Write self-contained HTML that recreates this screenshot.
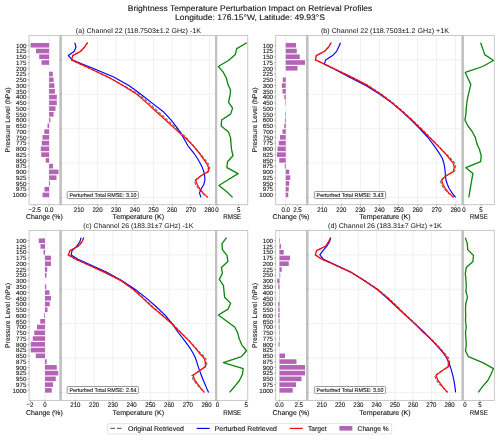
<!DOCTYPE html>
<html><head><meta charset="utf-8"><title>Brightness Temperature Perturbation Impact on Retrieval Profiles</title>
<style>
html,body{margin:0;padding:0;background:#fff;}
body{width:500px;height:440px;overflow:hidden;font-family:"Liberation Sans", sans-serif;}
svg{display:block;font-family:"Liberation Sans", sans-serif;}
</style></head><body>
<svg width="500" height="440" viewBox="0 0 500 440">
<defs><filter id="soft" x="-5%" y="-5%" width="110%" height="110%"><feGaussianBlur stdDeviation="0.3"/></filter></defs>
<rect x="0" y="0" width="500" height="440" fill="#ffffff"/>
<g filter="url(#soft)" text-rendering="geometricPrecision">
<line x1="78.90" y1="35.4" x2="78.90" y2="204.7" stroke="#e9e9e9" stroke-width="0.7"/>
<line x1="97.54" y1="35.4" x2="97.54" y2="204.7" stroke="#e9e9e9" stroke-width="0.7"/>
<line x1="116.18" y1="35.4" x2="116.18" y2="204.7" stroke="#e9e9e9" stroke-width="0.7"/>
<line x1="134.82" y1="35.4" x2="134.82" y2="204.7" stroke="#e9e9e9" stroke-width="0.7"/>
<line x1="153.46" y1="35.4" x2="153.46" y2="204.7" stroke="#e9e9e9" stroke-width="0.7"/>
<line x1="172.10" y1="35.4" x2="172.10" y2="204.7" stroke="#e9e9e9" stroke-width="0.7"/>
<line x1="190.74" y1="35.4" x2="190.74" y2="204.7" stroke="#e9e9e9" stroke-width="0.7"/>
<line x1="209.38" y1="35.4" x2="209.38" y2="204.7" stroke="#e9e9e9" stroke-width="0.7"/>
<line x1="61.3" y1="59.89" x2="215.45" y2="59.89" stroke="#e9e9e9" stroke-width="0.7"/>
<line x1="61.3" y1="94.27" x2="215.45" y2="94.27" stroke="#e9e9e9" stroke-width="0.7"/>
<line x1="61.3" y1="128.65" x2="215.45" y2="128.65" stroke="#e9e9e9" stroke-width="0.7"/>
<line x1="61.3" y1="163.03" x2="215.45" y2="163.03" stroke="#e9e9e9" stroke-width="0.7"/>
<line x1="61.3" y1="197.41" x2="215.45" y2="197.41" stroke="#e9e9e9" stroke-width="0.7"/>
<line x1="49.1" y1="35.4" x2="49.1" y2="204.7" stroke="#e6e6e6" stroke-width="0.8"/>
<rect x="30.60" y="42.95" width="18.50" height="4.6" fill="#b265b4"/>
<rect x="36.00" y="48.71" width="13.10" height="4.6" fill="#b265b4"/>
<rect x="39.20" y="54.46" width="9.90" height="4.6" fill="#b265b4"/>
<rect x="41.50" y="60.22" width="7.60" height="4.6" fill="#b265b4"/>
<rect x="49.10" y="71.73" width="3.70" height="4.6" fill="#b265b4"/>
<rect x="49.10" y="77.49" width="4.50" height="4.6" fill="#b265b4"/>
<rect x="49.10" y="83.25" width="5.30" height="4.6" fill="#b265b4"/>
<rect x="49.10" y="89.01" width="5.80" height="4.6" fill="#b265b4"/>
<rect x="49.10" y="94.76" width="7.70" height="4.6" fill="#b265b4"/>
<rect x="49.10" y="100.52" width="7.70" height="4.6" fill="#b265b4"/>
<rect x="49.10" y="106.28" width="6.40" height="4.6" fill="#b265b4"/>
<rect x="49.10" y="112.03" width="4.50" height="4.6" fill="#b265b4"/>
<rect x="49.10" y="117.79" width="1.30" height="4.6" fill="#b265b4"/>
<rect x="47.50" y="123.55" width="1.60" height="4.6" fill="#b265b4"/>
<rect x="44.30" y="129.30" width="4.80" height="4.6" fill="#b265b4"/>
<rect x="42.50" y="135.06" width="6.60" height="4.6" fill="#b265b4"/>
<rect x="41.75" y="140.82" width="7.35" height="4.6" fill="#b265b4"/>
<rect x="40.75" y="146.58" width="8.35" height="4.6" fill="#b265b4"/>
<rect x="41.25" y="152.33" width="7.85" height="4.6" fill="#b265b4"/>
<rect x="45.75" y="158.09" width="3.35" height="4.6" fill="#b265b4"/>
<rect x="49.10" y="163.85" width="3.90" height="4.6" fill="#b265b4"/>
<rect x="49.10" y="169.60" width="9.40" height="4.6" fill="#b265b4"/>
<rect x="49.10" y="175.36" width="7.40" height="4.6" fill="#b265b4"/>
<rect x="49.10" y="181.12" width="0.90" height="4.6" fill="#b265b4"/>
<rect x="44.50" y="186.87" width="4.60" height="4.6" fill="#b265b4"/>
<rect x="42.50" y="192.63" width="6.60" height="4.6" fill="#b265b4"/>
<polyline points="87.80,42.55 84.65,47.00 80.64,51.29 72.75,55.59 71.51,59.89 80.67,64.19 89.97,68.48 108.26,77.03 123.53,85.52 138.12,93.62 147.95,102.21 157.39,110.81 166.76,119.41 176.17,128.00 185.52,136.79 193.53,145.69 200.67,154.19 204.05,158.28 207.55,162.43 209.73,166.68 209.44,171.02 200.66,175.92 194.31,180.87 195.99,185.12 198.81,189.26 202.89,193.26 207.60,197.41" fill="none" stroke="#777777" stroke-width="1.2" stroke-linejoin="round" stroke-linecap="butt" stroke-dasharray="3.2 1.5"/>
<polyline points="74.70,42.70 76.00,47.00 74.34,51.29 68.33,55.59 72.12,59.89 82.77,64.19 93.56,68.48 113.70,77.08 129.28,85.67 140.84,94.27 151.82,102.86 163.05,111.46 171.21,120.06 177.75,128.65 183.17,137.25 187.91,145.84 194.86,154.44 197.64,158.73 200.02,163.03 202.23,167.33 203.76,171.62 204.72,175.92 204.92,180.22 203.76,184.52 201.17,188.81 199.47,193.11 201.00,197.41" fill="none" stroke="#0505ff" stroke-width="1.15" stroke-linejoin="round" stroke-linecap="butt"/>
<polyline points="87.50,42.70 84.65,47.00 80.64,51.29 72.75,55.59 71.51,59.89 80.67,64.19 89.97,68.48 108.16,77.08 123.23,85.67 136.82,94.27 146.65,102.86 156.09,111.46 165.46,120.06 174.87,128.65 184.61,137.25 193.23,145.84 200.17,154.44 203.15,158.73 206.35,163.03 208.43,167.33 208.24,171.62 200.66,175.92 195.61,180.22 197.19,184.52 199.71,188.81 203.19,193.11 207.60,197.41" fill="none" stroke="#ff0808" stroke-width="1.25" stroke-linejoin="round" stroke-linecap="butt"/>
<polyline points="246.90,42.70 236.70,48.65 235.30,54.60 228.50,60.55 218.30,66.50 223.40,72.45 226.50,78.40 227.90,84.35 230.60,90.30 229.90,96.25 228.50,102.20 232.60,108.15 230.60,114.10 221.60,120.05 221.20,126.00 228.50,131.95 230.60,137.90 231.00,143.85 231.60,149.80 233.00,155.75 227.50,161.70 226.90,167.65 238.10,173.60 228.50,179.55 218.90,185.50 226.50,191.45 232.60,197.40" fill="none" stroke="#0a850a" stroke-width="1.3" stroke-linejoin="round" stroke-linecap="butt"/>
<rect x="29.10" y="35.4" width="30.90" height="169.29999999999998" fill="none" stroke="#c1c1c1" stroke-width="0.9"/>
<rect x="61.30" y="35.4" width="154.15" height="169.29999999999998" fill="none" stroke="#c1c1c1" stroke-width="0.9"/>
<rect x="216.70" y="35.4" width="31.05" height="169.29999999999998" fill="none" stroke="#c1c1c1" stroke-width="0.9"/>
<rect x="59.55" y="34.95" width="2.20" height="170.20" fill="#c1c1c1"/>
<rect x="215.00" y="34.95" width="2.15" height="170.20" fill="#c1c1c1"/>
<line x1="27.50" y1="45.25" x2="29.10" y2="45.25" stroke="#777" stroke-width="0.5"/>
<text x="26.5" y="47.5" font-size="6.2" text-anchor="end" fill="#0d0d0d" textLength="10.4" lengthAdjust="spacingAndGlyphs" stroke="#0d0d0d" stroke-width="0.08">100</text>
<line x1="27.50" y1="51.01" x2="29.10" y2="51.01" stroke="#777" stroke-width="0.5"/>
<text x="26.5" y="53.26" font-size="6.2" text-anchor="end" fill="#0d0d0d" textLength="10.4" lengthAdjust="spacingAndGlyphs" stroke="#0d0d0d" stroke-width="0.08">125</text>
<line x1="27.50" y1="56.76" x2="29.10" y2="56.76" stroke="#777" stroke-width="0.5"/>
<text x="26.5" y="59.01" font-size="6.2" text-anchor="end" fill="#0d0d0d" textLength="10.4" lengthAdjust="spacingAndGlyphs" stroke="#0d0d0d" stroke-width="0.08">150</text>
<line x1="27.50" y1="62.52" x2="29.10" y2="62.52" stroke="#777" stroke-width="0.5"/>
<text x="26.5" y="64.77" font-size="6.2" text-anchor="end" fill="#0d0d0d" textLength="10.4" lengthAdjust="spacingAndGlyphs" stroke="#0d0d0d" stroke-width="0.08">175</text>
<line x1="27.50" y1="68.28" x2="29.10" y2="68.28" stroke="#777" stroke-width="0.5"/>
<text x="26.5" y="70.53" font-size="6.2" text-anchor="end" fill="#0d0d0d" textLength="10.4" lengthAdjust="spacingAndGlyphs" stroke="#0d0d0d" stroke-width="0.08">200</text>
<line x1="27.50" y1="74.03" x2="29.10" y2="74.03" stroke="#777" stroke-width="0.5"/>
<text x="26.5" y="76.28" font-size="6.2" text-anchor="end" fill="#0d0d0d" textLength="10.4" lengthAdjust="spacingAndGlyphs" stroke="#0d0d0d" stroke-width="0.08">225</text>
<line x1="27.50" y1="79.79" x2="29.10" y2="79.79" stroke="#777" stroke-width="0.5"/>
<text x="26.5" y="82.04" font-size="6.2" text-anchor="end" fill="#0d0d0d" textLength="10.4" lengthAdjust="spacingAndGlyphs" stroke="#0d0d0d" stroke-width="0.08">250</text>
<line x1="27.50" y1="85.55" x2="29.10" y2="85.55" stroke="#777" stroke-width="0.5"/>
<text x="26.5" y="87.8" font-size="6.2" text-anchor="end" fill="#0d0d0d" textLength="10.4" lengthAdjust="spacingAndGlyphs" stroke="#0d0d0d" stroke-width="0.08">300</text>
<line x1="27.50" y1="91.31" x2="29.10" y2="91.31" stroke="#777" stroke-width="0.5"/>
<text x="26.5" y="93.56" font-size="6.2" text-anchor="end" fill="#0d0d0d" textLength="10.4" lengthAdjust="spacingAndGlyphs" stroke="#0d0d0d" stroke-width="0.08">350</text>
<line x1="27.50" y1="97.06" x2="29.10" y2="97.06" stroke="#777" stroke-width="0.5"/>
<text x="26.5" y="99.31" font-size="6.2" text-anchor="end" fill="#0d0d0d" textLength="10.4" lengthAdjust="spacingAndGlyphs" stroke="#0d0d0d" stroke-width="0.08">400</text>
<line x1="27.50" y1="102.82" x2="29.10" y2="102.82" stroke="#777" stroke-width="0.5"/>
<text x="26.5" y="105.07" font-size="6.2" text-anchor="end" fill="#0d0d0d" textLength="10.4" lengthAdjust="spacingAndGlyphs" stroke="#0d0d0d" stroke-width="0.08">450</text>
<line x1="27.50" y1="108.58" x2="29.10" y2="108.58" stroke="#777" stroke-width="0.5"/>
<text x="26.5" y="110.83" font-size="6.2" text-anchor="end" fill="#0d0d0d" textLength="10.4" lengthAdjust="spacingAndGlyphs" stroke="#0d0d0d" stroke-width="0.08">500</text>
<line x1="27.50" y1="114.33" x2="29.10" y2="114.33" stroke="#777" stroke-width="0.5"/>
<text x="26.5" y="116.58" font-size="6.2" text-anchor="end" fill="#0d0d0d" textLength="10.4" lengthAdjust="spacingAndGlyphs" stroke="#0d0d0d" stroke-width="0.08">550</text>
<line x1="27.50" y1="120.09" x2="29.10" y2="120.09" stroke="#777" stroke-width="0.5"/>
<text x="26.5" y="122.34" font-size="6.2" text-anchor="end" fill="#0d0d0d" textLength="10.4" lengthAdjust="spacingAndGlyphs" stroke="#0d0d0d" stroke-width="0.08">600</text>
<line x1="27.50" y1="125.85" x2="29.10" y2="125.85" stroke="#777" stroke-width="0.5"/>
<text x="26.5" y="128.1" font-size="6.2" text-anchor="end" fill="#0d0d0d" textLength="10.4" lengthAdjust="spacingAndGlyphs" stroke="#0d0d0d" stroke-width="0.08">650</text>
<line x1="27.50" y1="131.60" x2="29.10" y2="131.60" stroke="#777" stroke-width="0.5"/>
<text x="26.5" y="133.85" font-size="6.2" text-anchor="end" fill="#0d0d0d" textLength="10.4" lengthAdjust="spacingAndGlyphs" stroke="#0d0d0d" stroke-width="0.08">700</text>
<line x1="27.50" y1="137.36" x2="29.10" y2="137.36" stroke="#777" stroke-width="0.5"/>
<text x="26.5" y="139.61" font-size="6.2" text-anchor="end" fill="#0d0d0d" textLength="10.4" lengthAdjust="spacingAndGlyphs" stroke="#0d0d0d" stroke-width="0.08">750</text>
<line x1="27.50" y1="143.12" x2="29.10" y2="143.12" stroke="#777" stroke-width="0.5"/>
<text x="26.5" y="145.37" font-size="6.2" text-anchor="end" fill="#0d0d0d" textLength="10.4" lengthAdjust="spacingAndGlyphs" stroke="#0d0d0d" stroke-width="0.08">775</text>
<line x1="27.50" y1="148.88" x2="29.10" y2="148.88" stroke="#777" stroke-width="0.5"/>
<text x="26.5" y="151.13" font-size="6.2" text-anchor="end" fill="#0d0d0d" textLength="10.4" lengthAdjust="spacingAndGlyphs" stroke="#0d0d0d" stroke-width="0.08">800</text>
<line x1="27.50" y1="154.63" x2="29.10" y2="154.63" stroke="#777" stroke-width="0.5"/>
<text x="26.5" y="156.88" font-size="6.2" text-anchor="end" fill="#0d0d0d" textLength="10.4" lengthAdjust="spacingAndGlyphs" stroke="#0d0d0d" stroke-width="0.08">825</text>
<line x1="27.50" y1="160.39" x2="29.10" y2="160.39" stroke="#777" stroke-width="0.5"/>
<text x="26.5" y="162.64" font-size="6.2" text-anchor="end" fill="#0d0d0d" textLength="10.4" lengthAdjust="spacingAndGlyphs" stroke="#0d0d0d" stroke-width="0.08">850</text>
<line x1="27.50" y1="166.15" x2="29.10" y2="166.15" stroke="#777" stroke-width="0.5"/>
<text x="26.5" y="168.4" font-size="6.2" text-anchor="end" fill="#0d0d0d" textLength="10.4" lengthAdjust="spacingAndGlyphs" stroke="#0d0d0d" stroke-width="0.08">875</text>
<line x1="27.50" y1="171.90" x2="29.10" y2="171.90" stroke="#777" stroke-width="0.5"/>
<text x="26.5" y="174.15" font-size="6.2" text-anchor="end" fill="#0d0d0d" textLength="10.4" lengthAdjust="spacingAndGlyphs" stroke="#0d0d0d" stroke-width="0.08">900</text>
<line x1="27.50" y1="177.66" x2="29.10" y2="177.66" stroke="#777" stroke-width="0.5"/>
<text x="26.5" y="179.91" font-size="6.2" text-anchor="end" fill="#0d0d0d" textLength="10.4" lengthAdjust="spacingAndGlyphs" stroke="#0d0d0d" stroke-width="0.08">925</text>
<line x1="27.50" y1="183.42" x2="29.10" y2="183.42" stroke="#777" stroke-width="0.5"/>
<text x="26.5" y="185.67" font-size="6.2" text-anchor="end" fill="#0d0d0d" textLength="10.4" lengthAdjust="spacingAndGlyphs" stroke="#0d0d0d" stroke-width="0.08">950</text>
<line x1="27.50" y1="189.17" x2="29.10" y2="189.17" stroke="#777" stroke-width="0.5"/>
<text x="26.5" y="191.42" font-size="6.2" text-anchor="end" fill="#0d0d0d" textLength="10.4" lengthAdjust="spacingAndGlyphs" stroke="#0d0d0d" stroke-width="0.08">975</text>
<line x1="27.50" y1="194.93" x2="29.10" y2="194.93" stroke="#777" stroke-width="0.5"/>
<text x="26.5" y="197.18" font-size="6.2" text-anchor="end" fill="#0d0d0d" textLength="13.9" lengthAdjust="spacingAndGlyphs" stroke="#0d0d0d" stroke-width="0.08">1000</text>
<line x1="60.10" y1="59.89" x2="61.30" y2="59.89" stroke="#777" stroke-width="0.5"/>
<line x1="60.10" y1="94.27" x2="61.30" y2="94.27" stroke="#777" stroke-width="0.5"/>
<line x1="60.10" y1="128.65" x2="61.30" y2="128.65" stroke="#777" stroke-width="0.5"/>
<line x1="60.10" y1="163.03" x2="61.30" y2="163.03" stroke="#777" stroke-width="0.5"/>
<line x1="60.10" y1="197.41" x2="61.30" y2="197.41" stroke="#777" stroke-width="0.5"/>
<line x1="35.1" y1="204.7" x2="35.1" y2="206.30" stroke="#777" stroke-width="0.5"/>
<text x="34.5" y="212.3" font-size="6.7" text-anchor="middle" fill="#0d0d0d" textLength="12.6" lengthAdjust="spacingAndGlyphs" stroke="#0d0d0d" stroke-width="0.09">−2.5</text>
<line x1="49.1" y1="204.7" x2="49.1" y2="206.30" stroke="#777" stroke-width="0.5"/>
<text x="49.1" y="212.3" font-size="6.7" text-anchor="middle" fill="#0d0d0d" textLength="8.6" lengthAdjust="spacingAndGlyphs" stroke="#0d0d0d" stroke-width="0.09">0.0</text>
<line x1="78.90" y1="204.7" x2="78.90" y2="206.30" stroke="#777" stroke-width="0.5"/>
<text x="78.9" y="212.3" font-size="6.7" text-anchor="middle" fill="#0d0d0d" textLength="10.2" lengthAdjust="spacingAndGlyphs" stroke="#0d0d0d" stroke-width="0.09">210</text>
<line x1="97.54" y1="204.7" x2="97.54" y2="206.30" stroke="#777" stroke-width="0.5"/>
<text x="97.54" y="212.3" font-size="6.7" text-anchor="middle" fill="#0d0d0d" textLength="10.2" lengthAdjust="spacingAndGlyphs" stroke="#0d0d0d" stroke-width="0.09">220</text>
<line x1="116.18" y1="204.7" x2="116.18" y2="206.30" stroke="#777" stroke-width="0.5"/>
<text x="116.18" y="212.3" font-size="6.7" text-anchor="middle" fill="#0d0d0d" textLength="10.2" lengthAdjust="spacingAndGlyphs" stroke="#0d0d0d" stroke-width="0.09">230</text>
<line x1="134.82" y1="204.7" x2="134.82" y2="206.30" stroke="#777" stroke-width="0.5"/>
<text x="134.82" y="212.3" font-size="6.7" text-anchor="middle" fill="#0d0d0d" textLength="10.2" lengthAdjust="spacingAndGlyphs" stroke="#0d0d0d" stroke-width="0.09">240</text>
<line x1="153.46" y1="204.7" x2="153.46" y2="206.30" stroke="#777" stroke-width="0.5"/>
<text x="153.46" y="212.3" font-size="6.7" text-anchor="middle" fill="#0d0d0d" textLength="10.2" lengthAdjust="spacingAndGlyphs" stroke="#0d0d0d" stroke-width="0.09">250</text>
<line x1="172.10" y1="204.7" x2="172.10" y2="206.30" stroke="#777" stroke-width="0.5"/>
<text x="172.1" y="212.3" font-size="6.7" text-anchor="middle" fill="#0d0d0d" textLength="10.2" lengthAdjust="spacingAndGlyphs" stroke="#0d0d0d" stroke-width="0.09">260</text>
<line x1="190.74" y1="204.7" x2="190.74" y2="206.30" stroke="#777" stroke-width="0.5"/>
<text x="190.74" y="212.3" font-size="6.7" text-anchor="middle" fill="#0d0d0d" textLength="10.2" lengthAdjust="spacingAndGlyphs" stroke="#0d0d0d" stroke-width="0.09">270</text>
<line x1="209.38" y1="204.7" x2="209.38" y2="206.30" stroke="#777" stroke-width="0.5"/>
<text x="209.38" y="212.3" font-size="6.7" text-anchor="middle" fill="#0d0d0d" textLength="10.2" lengthAdjust="spacingAndGlyphs" stroke="#0d0d0d" stroke-width="0.09">280</text>
<line x1="217.0" y1="204.7" x2="217.0" y2="206.30" stroke="#777" stroke-width="0.5"/>
<text x="217.0" y="212.3" font-size="6.7" text-anchor="middle" fill="#0d0d0d" textLength="3.4" lengthAdjust="spacingAndGlyphs" stroke="#0d0d0d" stroke-width="0.09">0</text>
<line x1="238.6" y1="204.7" x2="238.6" y2="206.30" stroke="#777" stroke-width="0.5"/>
<text x="238.6" y="212.3" font-size="6.7" text-anchor="middle" fill="#0d0d0d" textLength="3.4" lengthAdjust="spacingAndGlyphs" stroke="#0d0d0d" stroke-width="0.09">5</text>
<text x="44.4" y="219.2" font-size="7.0" text-anchor="middle" fill="#0d0d0d" textLength="36.8" lengthAdjust="spacingAndGlyphs" stroke="#0d0d0d" stroke-width="0.09">Change (%)</text>
<text x="138.38" y="219.2" font-size="7.0" text-anchor="middle" fill="#0d0d0d" textLength="51.5" lengthAdjust="spacingAndGlyphs" stroke="#0d0d0d" stroke-width="0.09">Temperature (K)</text>
<text x="232.22" y="219.2" font-size="6.9" text-anchor="middle" fill="#0d0d0d" textLength="18" lengthAdjust="spacingAndGlyphs" stroke="#0d0d0d" stroke-width="0.09">RMSE</text>
<text x="10.0" y="119.9" font-size="6.9" text-anchor="middle" fill="#0d0d0d" textLength="65" lengthAdjust="spacingAndGlyphs" transform="rotate(-90 10.0 119.9)" stroke="#0d0d0d" stroke-width="0.09">Pressure Level (hPa)</text>
<text x="138.38" y="33.45" font-size="6.8" text-anchor="middle" fill="#0d0d0d" textLength="125" lengthAdjust="spacingAndGlyphs">(a) Channel 22 (118.7503±1.2 GHz) -1K</text>
<rect x="67.20" y="191.50" width="71.20" height="7.0" rx="1" fill="#fff" stroke="#6e6e6e" stroke-width="0.7"/>
<text x="69.4" y="197.1" font-size="5.6" text-anchor="start" fill="#111" textLength="67" lengthAdjust="spacingAndGlyphs" stroke="#0d0d0d" stroke-width="0.09">Perturbed Total RMSE: 3.10</text>
<line x1="322.40" y1="35.4" x2="322.40" y2="204.7" stroke="#e9e9e9" stroke-width="0.7"/>
<line x1="341.42" y1="35.4" x2="341.42" y2="204.7" stroke="#e9e9e9" stroke-width="0.7"/>
<line x1="360.44" y1="35.4" x2="360.44" y2="204.7" stroke="#e9e9e9" stroke-width="0.7"/>
<line x1="379.46" y1="35.4" x2="379.46" y2="204.7" stroke="#e9e9e9" stroke-width="0.7"/>
<line x1="398.48" y1="35.4" x2="398.48" y2="204.7" stroke="#e9e9e9" stroke-width="0.7"/>
<line x1="417.50" y1="35.4" x2="417.50" y2="204.7" stroke="#e9e9e9" stroke-width="0.7"/>
<line x1="436.52" y1="35.4" x2="436.52" y2="204.7" stroke="#e9e9e9" stroke-width="0.7"/>
<line x1="455.54" y1="35.4" x2="455.54" y2="204.7" stroke="#e9e9e9" stroke-width="0.7"/>
<line x1="307.9" y1="59.89" x2="462.04999999999995" y2="59.89" stroke="#e9e9e9" stroke-width="0.7"/>
<line x1="307.9" y1="94.27" x2="462.04999999999995" y2="94.27" stroke="#e9e9e9" stroke-width="0.7"/>
<line x1="307.9" y1="128.65" x2="462.04999999999995" y2="128.65" stroke="#e9e9e9" stroke-width="0.7"/>
<line x1="307.9" y1="163.03" x2="462.04999999999995" y2="163.03" stroke="#e9e9e9" stroke-width="0.7"/>
<line x1="307.9" y1="197.41" x2="462.04999999999995" y2="197.41" stroke="#e9e9e9" stroke-width="0.7"/>
<line x1="285.75" y1="35.4" x2="285.75" y2="204.7" stroke="#e6e6e6" stroke-width="0.8"/>
<rect x="285.75" y="42.95" width="10.25" height="4.6" fill="#b265b4"/>
<rect x="285.75" y="48.71" width="11.00" height="4.6" fill="#b265b4"/>
<rect x="285.75" y="54.46" width="14.00" height="4.6" fill="#b265b4"/>
<rect x="285.75" y="60.22" width="19.25" height="4.6" fill="#b265b4"/>
<rect x="285.75" y="65.98" width="11.75" height="4.6" fill="#b265b4"/>
<rect x="282.75" y="77.49" width="3.00" height="4.6" fill="#b265b4"/>
<rect x="281.75" y="83.25" width="4.00" height="4.6" fill="#b265b4"/>
<rect x="282.50" y="89.01" width="3.25" height="4.6" fill="#b265b4"/>
<rect x="284.25" y="94.76" width="1.50" height="4.6" fill="#b265b4"/>
<rect x="285.30" y="100.52" width="0.45" height="4.6" fill="#b265b4"/>
<rect x="285.25" y="112.03" width="0.50" height="4.6" fill="#b265b4"/>
<rect x="285.00" y="117.79" width="0.75" height="4.6" fill="#b265b4"/>
<rect x="284.25" y="123.55" width="1.50" height="4.6" fill="#b265b4"/>
<rect x="282.50" y="129.30" width="3.25" height="4.6" fill="#b265b4"/>
<rect x="280.00" y="135.06" width="5.75" height="4.6" fill="#b265b4"/>
<rect x="278.75" y="140.82" width="7.00" height="4.6" fill="#b265b4"/>
<rect x="277.50" y="146.58" width="8.25" height="4.6" fill="#b265b4"/>
<rect x="277.00" y="152.33" width="8.75" height="4.6" fill="#b265b4"/>
<rect x="279.25" y="158.09" width="6.50" height="4.6" fill="#b265b4"/>
<rect x="284.75" y="163.85" width="1.00" height="4.6" fill="#b265b4"/>
<rect x="285.75" y="169.60" width="3.50" height="4.6" fill="#b265b4"/>
<rect x="285.75" y="175.36" width="4.50" height="4.6" fill="#b265b4"/>
<rect x="285.75" y="181.12" width="3.50" height="4.6" fill="#b265b4"/>
<rect x="285.75" y="186.87" width="3.00" height="4.6" fill="#b265b4"/>
<rect x="285.75" y="192.63" width="2.50" height="4.6" fill="#b265b4"/>
<polyline points="331.30,42.55 328.70,47.00 324.59,51.29 316.30,55.59 315.41,59.89 324.57,64.19 333.67,68.48 351.63,77.03 368.18,85.52 381.42,93.97 392.59,102.56 402.78,111.16 412.26,119.76 421.31,128.35 429.69,137.04 438.20,145.69 446.49,154.19 450.51,158.28 454.41,162.43 455.57,166.68 454.62,171.02 445.80,175.92 440.33,180.87 441.87,185.12 444.59,189.26 448.66,193.26 453.60,197.41" fill="none" stroke="#777777" stroke-width="1.2" stroke-linejoin="round" stroke-linecap="butt" stroke-dasharray="3.2 1.5"/>
<polyline points="340.50,42.70 338.69,47.00 336.60,51.29 332.57,55.59 325.61,59.89 324.40,64.19 333.27,68.48 349.09,77.08 366.18,85.67 379.81,94.27 391.82,102.86 402.12,111.46 411.14,120.06 419.62,128.65 427.71,137.25 434.26,145.84 440.05,154.44 442.54,158.73 443.81,163.03 444.65,167.33 445.14,171.62 445.41,175.92 446.01,180.22 447.41,184.52 449.35,188.81 452.12,193.11 455.60,197.41" fill="none" stroke="#0505ff" stroke-width="1.15" stroke-linejoin="round" stroke-linecap="butt"/>
<polyline points="331.00,42.70 328.70,47.00 324.59,51.29 316.30,55.59 315.41,59.89 324.57,64.19 333.67,68.48 351.53,77.08 367.88,85.67 380.82,94.27 391.99,102.86 402.18,111.46 411.66,120.06 420.71,128.65 429.27,137.25 437.90,145.84 445.99,154.44 449.61,158.73 453.21,163.03 454.27,167.33 453.42,171.62 445.80,175.92 441.63,180.22 443.07,184.52 445.49,188.81 448.96,193.11 453.60,197.41" fill="none" stroke="#ff0808" stroke-width="1.25" stroke-linejoin="round" stroke-linecap="butt"/>
<polyline points="480.60,42.70 482.70,48.65 484.70,54.60 493.50,60.55 482.70,66.50 465.30,72.45 468.00,78.40 470.80,84.35 469.40,90.30 468.00,96.25 466.90,102.20 466.30,108.15 465.90,114.10 464.90,120.05 468.00,126.00 472.40,131.95 475.50,137.90 476.90,143.85 479.60,149.80 481.20,155.75 480.60,161.70 465.90,167.65 472.90,173.60 471.80,179.55 470.80,185.50 469.80,191.45 468.80,197.40" fill="none" stroke="#0a850a" stroke-width="1.3" stroke-linejoin="round" stroke-linecap="butt"/>
<rect x="275.70" y="35.4" width="30.90" height="169.29999999999998" fill="none" stroke="#c1c1c1" stroke-width="0.9"/>
<rect x="307.90" y="35.4" width="154.15" height="169.29999999999998" fill="none" stroke="#c1c1c1" stroke-width="0.9"/>
<rect x="463.30" y="35.4" width="31.05" height="169.29999999999998" fill="none" stroke="#c1c1c1" stroke-width="0.9"/>
<rect x="306.15" y="34.95" width="2.20" height="170.20" fill="#c1c1c1"/>
<rect x="461.60" y="34.95" width="2.15" height="170.20" fill="#c1c1c1"/>
<line x1="274.10" y1="45.25" x2="275.70" y2="45.25" stroke="#777" stroke-width="0.5"/>
<text x="273.1" y="47.5" font-size="6.2" text-anchor="end" fill="#0d0d0d" textLength="10.4" lengthAdjust="spacingAndGlyphs" stroke="#0d0d0d" stroke-width="0.08">100</text>
<line x1="274.10" y1="51.01" x2="275.70" y2="51.01" stroke="#777" stroke-width="0.5"/>
<text x="273.1" y="53.26" font-size="6.2" text-anchor="end" fill="#0d0d0d" textLength="10.4" lengthAdjust="spacingAndGlyphs" stroke="#0d0d0d" stroke-width="0.08">125</text>
<line x1="274.10" y1="56.76" x2="275.70" y2="56.76" stroke="#777" stroke-width="0.5"/>
<text x="273.1" y="59.01" font-size="6.2" text-anchor="end" fill="#0d0d0d" textLength="10.4" lengthAdjust="spacingAndGlyphs" stroke="#0d0d0d" stroke-width="0.08">150</text>
<line x1="274.10" y1="62.52" x2="275.70" y2="62.52" stroke="#777" stroke-width="0.5"/>
<text x="273.1" y="64.77" font-size="6.2" text-anchor="end" fill="#0d0d0d" textLength="10.4" lengthAdjust="spacingAndGlyphs" stroke="#0d0d0d" stroke-width="0.08">175</text>
<line x1="274.10" y1="68.28" x2="275.70" y2="68.28" stroke="#777" stroke-width="0.5"/>
<text x="273.1" y="70.53" font-size="6.2" text-anchor="end" fill="#0d0d0d" textLength="10.4" lengthAdjust="spacingAndGlyphs" stroke="#0d0d0d" stroke-width="0.08">200</text>
<line x1="274.10" y1="74.03" x2="275.70" y2="74.03" stroke="#777" stroke-width="0.5"/>
<text x="273.1" y="76.28" font-size="6.2" text-anchor="end" fill="#0d0d0d" textLength="10.4" lengthAdjust="spacingAndGlyphs" stroke="#0d0d0d" stroke-width="0.08">225</text>
<line x1="274.10" y1="79.79" x2="275.70" y2="79.79" stroke="#777" stroke-width="0.5"/>
<text x="273.1" y="82.04" font-size="6.2" text-anchor="end" fill="#0d0d0d" textLength="10.4" lengthAdjust="spacingAndGlyphs" stroke="#0d0d0d" stroke-width="0.08">250</text>
<line x1="274.10" y1="85.55" x2="275.70" y2="85.55" stroke="#777" stroke-width="0.5"/>
<text x="273.1" y="87.8" font-size="6.2" text-anchor="end" fill="#0d0d0d" textLength="10.4" lengthAdjust="spacingAndGlyphs" stroke="#0d0d0d" stroke-width="0.08">300</text>
<line x1="274.10" y1="91.31" x2="275.70" y2="91.31" stroke="#777" stroke-width="0.5"/>
<text x="273.1" y="93.56" font-size="6.2" text-anchor="end" fill="#0d0d0d" textLength="10.4" lengthAdjust="spacingAndGlyphs" stroke="#0d0d0d" stroke-width="0.08">350</text>
<line x1="274.10" y1="97.06" x2="275.70" y2="97.06" stroke="#777" stroke-width="0.5"/>
<text x="273.1" y="99.31" font-size="6.2" text-anchor="end" fill="#0d0d0d" textLength="10.4" lengthAdjust="spacingAndGlyphs" stroke="#0d0d0d" stroke-width="0.08">400</text>
<line x1="274.10" y1="102.82" x2="275.70" y2="102.82" stroke="#777" stroke-width="0.5"/>
<text x="273.1" y="105.07" font-size="6.2" text-anchor="end" fill="#0d0d0d" textLength="10.4" lengthAdjust="spacingAndGlyphs" stroke="#0d0d0d" stroke-width="0.08">450</text>
<line x1="274.10" y1="108.58" x2="275.70" y2="108.58" stroke="#777" stroke-width="0.5"/>
<text x="273.1" y="110.83" font-size="6.2" text-anchor="end" fill="#0d0d0d" textLength="10.4" lengthAdjust="spacingAndGlyphs" stroke="#0d0d0d" stroke-width="0.08">500</text>
<line x1="274.10" y1="114.33" x2="275.70" y2="114.33" stroke="#777" stroke-width="0.5"/>
<text x="273.1" y="116.58" font-size="6.2" text-anchor="end" fill="#0d0d0d" textLength="10.4" lengthAdjust="spacingAndGlyphs" stroke="#0d0d0d" stroke-width="0.08">550</text>
<line x1="274.10" y1="120.09" x2="275.70" y2="120.09" stroke="#777" stroke-width="0.5"/>
<text x="273.1" y="122.34" font-size="6.2" text-anchor="end" fill="#0d0d0d" textLength="10.4" lengthAdjust="spacingAndGlyphs" stroke="#0d0d0d" stroke-width="0.08">600</text>
<line x1="274.10" y1="125.85" x2="275.70" y2="125.85" stroke="#777" stroke-width="0.5"/>
<text x="273.1" y="128.1" font-size="6.2" text-anchor="end" fill="#0d0d0d" textLength="10.4" lengthAdjust="spacingAndGlyphs" stroke="#0d0d0d" stroke-width="0.08">650</text>
<line x1="274.10" y1="131.60" x2="275.70" y2="131.60" stroke="#777" stroke-width="0.5"/>
<text x="273.1" y="133.85" font-size="6.2" text-anchor="end" fill="#0d0d0d" textLength="10.4" lengthAdjust="spacingAndGlyphs" stroke="#0d0d0d" stroke-width="0.08">700</text>
<line x1="274.10" y1="137.36" x2="275.70" y2="137.36" stroke="#777" stroke-width="0.5"/>
<text x="273.1" y="139.61" font-size="6.2" text-anchor="end" fill="#0d0d0d" textLength="10.4" lengthAdjust="spacingAndGlyphs" stroke="#0d0d0d" stroke-width="0.08">750</text>
<line x1="274.10" y1="143.12" x2="275.70" y2="143.12" stroke="#777" stroke-width="0.5"/>
<text x="273.1" y="145.37" font-size="6.2" text-anchor="end" fill="#0d0d0d" textLength="10.4" lengthAdjust="spacingAndGlyphs" stroke="#0d0d0d" stroke-width="0.08">775</text>
<line x1="274.10" y1="148.88" x2="275.70" y2="148.88" stroke="#777" stroke-width="0.5"/>
<text x="273.1" y="151.13" font-size="6.2" text-anchor="end" fill="#0d0d0d" textLength="10.4" lengthAdjust="spacingAndGlyphs" stroke="#0d0d0d" stroke-width="0.08">800</text>
<line x1="274.10" y1="154.63" x2="275.70" y2="154.63" stroke="#777" stroke-width="0.5"/>
<text x="273.1" y="156.88" font-size="6.2" text-anchor="end" fill="#0d0d0d" textLength="10.4" lengthAdjust="spacingAndGlyphs" stroke="#0d0d0d" stroke-width="0.08">825</text>
<line x1="274.10" y1="160.39" x2="275.70" y2="160.39" stroke="#777" stroke-width="0.5"/>
<text x="273.1" y="162.64" font-size="6.2" text-anchor="end" fill="#0d0d0d" textLength="10.4" lengthAdjust="spacingAndGlyphs" stroke="#0d0d0d" stroke-width="0.08">850</text>
<line x1="274.10" y1="166.15" x2="275.70" y2="166.15" stroke="#777" stroke-width="0.5"/>
<text x="273.1" y="168.4" font-size="6.2" text-anchor="end" fill="#0d0d0d" textLength="10.4" lengthAdjust="spacingAndGlyphs" stroke="#0d0d0d" stroke-width="0.08">875</text>
<line x1="274.10" y1="171.90" x2="275.70" y2="171.90" stroke="#777" stroke-width="0.5"/>
<text x="273.1" y="174.15" font-size="6.2" text-anchor="end" fill="#0d0d0d" textLength="10.4" lengthAdjust="spacingAndGlyphs" stroke="#0d0d0d" stroke-width="0.08">900</text>
<line x1="274.10" y1="177.66" x2="275.70" y2="177.66" stroke="#777" stroke-width="0.5"/>
<text x="273.1" y="179.91" font-size="6.2" text-anchor="end" fill="#0d0d0d" textLength="10.4" lengthAdjust="spacingAndGlyphs" stroke="#0d0d0d" stroke-width="0.08">925</text>
<line x1="274.10" y1="183.42" x2="275.70" y2="183.42" stroke="#777" stroke-width="0.5"/>
<text x="273.1" y="185.67" font-size="6.2" text-anchor="end" fill="#0d0d0d" textLength="10.4" lengthAdjust="spacingAndGlyphs" stroke="#0d0d0d" stroke-width="0.08">950</text>
<line x1="274.10" y1="189.17" x2="275.70" y2="189.17" stroke="#777" stroke-width="0.5"/>
<text x="273.1" y="191.42" font-size="6.2" text-anchor="end" fill="#0d0d0d" textLength="10.4" lengthAdjust="spacingAndGlyphs" stroke="#0d0d0d" stroke-width="0.08">975</text>
<line x1="274.10" y1="194.93" x2="275.70" y2="194.93" stroke="#777" stroke-width="0.5"/>
<text x="273.1" y="197.18" font-size="6.2" text-anchor="end" fill="#0d0d0d" textLength="13.9" lengthAdjust="spacingAndGlyphs" stroke="#0d0d0d" stroke-width="0.08">1000</text>
<line x1="306.70" y1="59.89" x2="307.90" y2="59.89" stroke="#777" stroke-width="0.5"/>
<line x1="306.70" y1="94.27" x2="307.90" y2="94.27" stroke="#777" stroke-width="0.5"/>
<line x1="306.70" y1="128.65" x2="307.90" y2="128.65" stroke="#777" stroke-width="0.5"/>
<line x1="306.70" y1="163.03" x2="307.90" y2="163.03" stroke="#777" stroke-width="0.5"/>
<line x1="306.70" y1="197.41" x2="307.90" y2="197.41" stroke="#777" stroke-width="0.5"/>
<line x1="285.75" y1="204.7" x2="285.75" y2="206.30" stroke="#777" stroke-width="0.5"/>
<text x="285.75" y="212.3" font-size="6.7" text-anchor="middle" fill="#0d0d0d" textLength="8.6" lengthAdjust="spacingAndGlyphs" stroke="#0d0d0d" stroke-width="0.09">0.0</text>
<line x1="297.5" y1="204.7" x2="297.5" y2="206.30" stroke="#777" stroke-width="0.5"/>
<text x="297.5" y="212.3" font-size="6.7" text-anchor="middle" fill="#0d0d0d" textLength="8.6" lengthAdjust="spacingAndGlyphs" stroke="#0d0d0d" stroke-width="0.09">2.5</text>
<line x1="322.40" y1="204.7" x2="322.40" y2="206.30" stroke="#777" stroke-width="0.5"/>
<text x="322.4" y="212.3" font-size="6.7" text-anchor="middle" fill="#0d0d0d" textLength="10.2" lengthAdjust="spacingAndGlyphs" stroke="#0d0d0d" stroke-width="0.09">210</text>
<line x1="341.42" y1="204.7" x2="341.42" y2="206.30" stroke="#777" stroke-width="0.5"/>
<text x="341.42" y="212.3" font-size="6.7" text-anchor="middle" fill="#0d0d0d" textLength="10.2" lengthAdjust="spacingAndGlyphs" stroke="#0d0d0d" stroke-width="0.09">220</text>
<line x1="360.44" y1="204.7" x2="360.44" y2="206.30" stroke="#777" stroke-width="0.5"/>
<text x="360.44" y="212.3" font-size="6.7" text-anchor="middle" fill="#0d0d0d" textLength="10.2" lengthAdjust="spacingAndGlyphs" stroke="#0d0d0d" stroke-width="0.09">230</text>
<line x1="379.46" y1="204.7" x2="379.46" y2="206.30" stroke="#777" stroke-width="0.5"/>
<text x="379.46" y="212.3" font-size="6.7" text-anchor="middle" fill="#0d0d0d" textLength="10.2" lengthAdjust="spacingAndGlyphs" stroke="#0d0d0d" stroke-width="0.09">240</text>
<line x1="398.48" y1="204.7" x2="398.48" y2="206.30" stroke="#777" stroke-width="0.5"/>
<text x="398.48" y="212.3" font-size="6.7" text-anchor="middle" fill="#0d0d0d" textLength="10.2" lengthAdjust="spacingAndGlyphs" stroke="#0d0d0d" stroke-width="0.09">250</text>
<line x1="417.50" y1="204.7" x2="417.50" y2="206.30" stroke="#777" stroke-width="0.5"/>
<text x="417.5" y="212.3" font-size="6.7" text-anchor="middle" fill="#0d0d0d" textLength="10.2" lengthAdjust="spacingAndGlyphs" stroke="#0d0d0d" stroke-width="0.09">260</text>
<line x1="436.52" y1="204.7" x2="436.52" y2="206.30" stroke="#777" stroke-width="0.5"/>
<text x="436.52" y="212.3" font-size="6.7" text-anchor="middle" fill="#0d0d0d" textLength="10.2" lengthAdjust="spacingAndGlyphs" stroke="#0d0d0d" stroke-width="0.09">270</text>
<line x1="455.54" y1="204.7" x2="455.54" y2="206.30" stroke="#777" stroke-width="0.5"/>
<text x="455.54" y="212.3" font-size="6.7" text-anchor="middle" fill="#0d0d0d" textLength="10.2" lengthAdjust="spacingAndGlyphs" stroke="#0d0d0d" stroke-width="0.09">280</text>
<line x1="464.0" y1="204.7" x2="464.0" y2="206.30" stroke="#777" stroke-width="0.5"/>
<text x="464.0" y="212.3" font-size="6.7" text-anchor="middle" fill="#0d0d0d" textLength="3.4" lengthAdjust="spacingAndGlyphs" stroke="#0d0d0d" stroke-width="0.09">0</text>
<line x1="481.0" y1="204.7" x2="481.0" y2="206.30" stroke="#777" stroke-width="0.5"/>
<text x="481.0" y="212.3" font-size="6.7" text-anchor="middle" fill="#0d0d0d" textLength="3.4" lengthAdjust="spacingAndGlyphs" stroke="#0d0d0d" stroke-width="0.09">5</text>
<text x="291.0" y="219.2" font-size="7.0" text-anchor="middle" fill="#0d0d0d" textLength="36.8" lengthAdjust="spacingAndGlyphs" stroke="#0d0d0d" stroke-width="0.09">Change (%)</text>
<text x="384.97" y="219.2" font-size="7.0" text-anchor="middle" fill="#0d0d0d" textLength="51.5" lengthAdjust="spacingAndGlyphs" stroke="#0d0d0d" stroke-width="0.09">Temperature (K)</text>
<text x="478.82" y="219.2" font-size="6.9" text-anchor="middle" fill="#0d0d0d" textLength="18" lengthAdjust="spacingAndGlyphs" stroke="#0d0d0d" stroke-width="0.09">RMSE</text>
<text x="256.6" y="119.9" font-size="6.9" text-anchor="middle" fill="#0d0d0d" textLength="65" lengthAdjust="spacingAndGlyphs" transform="rotate(-90 256.6 119.9)" stroke="#0d0d0d" stroke-width="0.09">Pressure Level (hPa)</text>
<text x="384.97" y="33.45" font-size="6.8" text-anchor="middle" fill="#0d0d0d" textLength="128" lengthAdjust="spacingAndGlyphs">(b) Channel 22 (118.7503±1.2 GHz) +1K</text>
<rect x="314.40" y="191.50" width="71.20" height="7.0" rx="1" fill="#fff" stroke="#6e6e6e" stroke-width="0.7"/>
<text x="316.6" y="197.1" font-size="5.6" text-anchor="start" fill="#111" textLength="67" lengthAdjust="spacingAndGlyphs" stroke="#0d0d0d" stroke-width="0.09">Perturbed Total RMSE: 3.43</text>
<line x1="75.40" y1="230.4" x2="75.40" y2="400.4" stroke="#e9e9e9" stroke-width="0.7"/>
<line x1="94.14" y1="230.4" x2="94.14" y2="400.4" stroke="#e9e9e9" stroke-width="0.7"/>
<line x1="112.88" y1="230.4" x2="112.88" y2="400.4" stroke="#e9e9e9" stroke-width="0.7"/>
<line x1="131.62" y1="230.4" x2="131.62" y2="400.4" stroke="#e9e9e9" stroke-width="0.7"/>
<line x1="150.36" y1="230.4" x2="150.36" y2="400.4" stroke="#e9e9e9" stroke-width="0.7"/>
<line x1="169.10" y1="230.4" x2="169.10" y2="400.4" stroke="#e9e9e9" stroke-width="0.7"/>
<line x1="187.84" y1="230.4" x2="187.84" y2="400.4" stroke="#e9e9e9" stroke-width="0.7"/>
<line x1="206.58" y1="230.4" x2="206.58" y2="400.4" stroke="#e9e9e9" stroke-width="0.7"/>
<line x1="61.3" y1="254.89" x2="215.45" y2="254.89" stroke="#e9e9e9" stroke-width="0.7"/>
<line x1="61.3" y1="289.27" x2="215.45" y2="289.27" stroke="#e9e9e9" stroke-width="0.7"/>
<line x1="61.3" y1="323.65" x2="215.45" y2="323.65" stroke="#e9e9e9" stroke-width="0.7"/>
<line x1="61.3" y1="358.03" x2="215.45" y2="358.03" stroke="#e9e9e9" stroke-width="0.7"/>
<line x1="61.3" y1="392.41" x2="215.45" y2="392.41" stroke="#e9e9e9" stroke-width="0.7"/>
<line x1="45.0" y1="230.4" x2="45.0" y2="400.4" stroke="#e6e6e6" stroke-width="0.8"/>
<rect x="38.75" y="238.40" width="6.25" height="4.6" fill="#b265b4"/>
<rect x="40.50" y="244.16" width="4.50" height="4.6" fill="#b265b4"/>
<rect x="43.50" y="249.91" width="1.50" height="4.6" fill="#b265b4"/>
<rect x="45.00" y="255.67" width="6.00" height="4.6" fill="#b265b4"/>
<rect x="45.00" y="261.43" width="6.00" height="4.6" fill="#b265b4"/>
<rect x="45.00" y="267.19" width="2.25" height="4.6" fill="#b265b4"/>
<rect x="45.00" y="272.94" width="1.50" height="4.6" fill="#b265b4"/>
<rect x="45.00" y="284.46" width="1.25" height="4.6" fill="#b265b4"/>
<rect x="45.00" y="290.21" width="4.50" height="4.6" fill="#b265b4"/>
<rect x="45.00" y="295.97" width="6.00" height="4.6" fill="#b265b4"/>
<rect x="45.00" y="301.73" width="4.75" height="4.6" fill="#b265b4"/>
<rect x="45.00" y="307.48" width="2.50" height="4.6" fill="#b265b4"/>
<rect x="44.25" y="313.24" width="0.75" height="4.6" fill="#b265b4"/>
<rect x="40.25" y="319.00" width="4.75" height="4.6" fill="#b265b4"/>
<rect x="37.00" y="324.75" width="8.00" height="4.6" fill="#b265b4"/>
<rect x="34.25" y="330.51" width="10.75" height="4.6" fill="#b265b4"/>
<rect x="32.75" y="336.27" width="12.25" height="4.6" fill="#b265b4"/>
<rect x="30.75" y="342.03" width="14.25" height="4.6" fill="#b265b4"/>
<rect x="30.75" y="347.78" width="14.25" height="4.6" fill="#b265b4"/>
<rect x="35.75" y="353.54" width="9.25" height="4.6" fill="#b265b4"/>
<rect x="45.00" y="359.30" width="1.75" height="4.6" fill="#b265b4"/>
<rect x="45.00" y="365.05" width="11.75" height="4.6" fill="#b265b4"/>
<rect x="45.00" y="370.81" width="13.25" height="4.6" fill="#b265b4"/>
<rect x="45.00" y="376.57" width="10.75" height="4.6" fill="#b265b4"/>
<rect x="45.00" y="382.32" width="8.00" height="4.6" fill="#b265b4"/>
<rect x="45.00" y="388.08" width="6.75" height="4.6" fill="#b265b4"/>
<polyline points="84.00,237.55 81.90,242.00 78.13,246.30 70.08,250.59 68.31,254.89 75.67,259.19 85.17,263.49 104.23,272.03 121.39,280.53 133.38,289.02 143.00,297.62 152.14,306.21 162.27,314.81 172.13,323.40 180.63,332.07 189.29,340.69 196.93,349.19 200.68,353.28 205.13,357.43 206.66,361.68 206.65,366.02 199.06,370.92 191.76,375.87 193.36,380.12 196.63,384.27 200.39,388.26 204.40,392.41" fill="none" stroke="#777777" stroke-width="1.2" stroke-linejoin="round" stroke-linecap="butt" stroke-dasharray="3.2 1.5"/>
<polyline points="81.10,237.70 79.76,242.00 76.56,246.30 72.06,250.59 71.21,254.89 77.97,259.19 87.47,263.49 106.38,272.08 121.94,280.68 134.94,289.27 146.05,297.87 155.97,306.46 165.12,315.06 172.14,323.65 178.04,332.25 184.79,340.84 190.92,349.44 193.43,353.73 195.42,358.03 196.89,362.33 198.21,366.62 199.69,370.92 201.30,375.22 202.99,379.52 204.76,383.82 206.63,388.11 208.60,392.41" fill="none" stroke="#0505ff" stroke-width="1.15" stroke-linejoin="round" stroke-linecap="butt"/>
<polyline points="83.70,237.70 81.90,242.00 78.13,246.30 70.08,250.59 68.31,254.89 75.67,259.19 85.17,263.49 104.13,272.08 121.09,280.68 132.88,289.27 142.50,297.87 151.64,306.46 161.77,315.06 171.63,323.65 180.28,332.25 188.99,340.84 196.43,349.44 199.78,353.73 203.93,358.03 205.36,362.33 205.45,366.62 199.06,370.92 193.06,375.22 194.56,379.52 197.53,383.82 200.69,388.11 204.40,392.41" fill="none" stroke="#ff0808" stroke-width="1.25" stroke-linejoin="round" stroke-linecap="butt"/>
<polyline points="226.50,237.70 222.00,243.65 222.40,249.60 227.10,255.55 227.90,261.50 221.40,267.45 222.40,273.40 219.30,279.35 223.40,285.30 224.00,291.25 224.60,297.20 230.60,303.15 228.10,309.10 218.30,315.05 226.50,321.00 234.70,326.95 237.70,332.90 239.20,338.85 241.80,344.80 246.50,350.75 241.40,356.70 223.40,362.65 243.20,368.60 242.40,374.55 239.40,380.50 234.70,386.45 229.50,392.40" fill="none" stroke="#0a850a" stroke-width="1.3" stroke-linejoin="round" stroke-linecap="butt"/>
<rect x="29.10" y="230.4" width="30.90" height="169.99999999999997" fill="none" stroke="#c1c1c1" stroke-width="0.9"/>
<rect x="61.30" y="230.4" width="154.15" height="169.99999999999997" fill="none" stroke="#c1c1c1" stroke-width="0.9"/>
<rect x="216.70" y="230.4" width="31.05" height="169.99999999999997" fill="none" stroke="#c1c1c1" stroke-width="0.9"/>
<rect x="59.55" y="229.95" width="2.20" height="170.90" fill="#c1c1c1"/>
<rect x="215.00" y="229.95" width="2.15" height="170.90" fill="#c1c1c1"/>
<line x1="27.50" y1="240.70" x2="29.10" y2="240.70" stroke="#777" stroke-width="0.5"/>
<text x="26.5" y="242.95" font-size="6.2" text-anchor="end" fill="#0d0d0d" textLength="10.4" lengthAdjust="spacingAndGlyphs" stroke="#0d0d0d" stroke-width="0.08">100</text>
<line x1="27.50" y1="246.46" x2="29.10" y2="246.46" stroke="#777" stroke-width="0.5"/>
<text x="26.5" y="248.71" font-size="6.2" text-anchor="end" fill="#0d0d0d" textLength="10.4" lengthAdjust="spacingAndGlyphs" stroke="#0d0d0d" stroke-width="0.08">125</text>
<line x1="27.50" y1="252.21" x2="29.10" y2="252.21" stroke="#777" stroke-width="0.5"/>
<text x="26.5" y="254.46" font-size="6.2" text-anchor="end" fill="#0d0d0d" textLength="10.4" lengthAdjust="spacingAndGlyphs" stroke="#0d0d0d" stroke-width="0.08">150</text>
<line x1="27.50" y1="257.97" x2="29.10" y2="257.97" stroke="#777" stroke-width="0.5"/>
<text x="26.5" y="260.22" font-size="6.2" text-anchor="end" fill="#0d0d0d" textLength="10.4" lengthAdjust="spacingAndGlyphs" stroke="#0d0d0d" stroke-width="0.08">175</text>
<line x1="27.50" y1="263.73" x2="29.10" y2="263.73" stroke="#777" stroke-width="0.5"/>
<text x="26.5" y="265.98" font-size="6.2" text-anchor="end" fill="#0d0d0d" textLength="10.4" lengthAdjust="spacingAndGlyphs" stroke="#0d0d0d" stroke-width="0.08">200</text>
<line x1="27.50" y1="269.49" x2="29.10" y2="269.49" stroke="#777" stroke-width="0.5"/>
<text x="26.5" y="271.74" font-size="6.2" text-anchor="end" fill="#0d0d0d" textLength="10.4" lengthAdjust="spacingAndGlyphs" stroke="#0d0d0d" stroke-width="0.08">225</text>
<line x1="27.50" y1="275.24" x2="29.10" y2="275.24" stroke="#777" stroke-width="0.5"/>
<text x="26.5" y="277.49" font-size="6.2" text-anchor="end" fill="#0d0d0d" textLength="10.4" lengthAdjust="spacingAndGlyphs" stroke="#0d0d0d" stroke-width="0.08">250</text>
<line x1="27.50" y1="281.00" x2="29.10" y2="281.00" stroke="#777" stroke-width="0.5"/>
<text x="26.5" y="283.25" font-size="6.2" text-anchor="end" fill="#0d0d0d" textLength="10.4" lengthAdjust="spacingAndGlyphs" stroke="#0d0d0d" stroke-width="0.08">300</text>
<line x1="27.50" y1="286.76" x2="29.10" y2="286.76" stroke="#777" stroke-width="0.5"/>
<text x="26.5" y="289.01" font-size="6.2" text-anchor="end" fill="#0d0d0d" textLength="10.4" lengthAdjust="spacingAndGlyphs" stroke="#0d0d0d" stroke-width="0.08">350</text>
<line x1="27.50" y1="292.51" x2="29.10" y2="292.51" stroke="#777" stroke-width="0.5"/>
<text x="26.5" y="294.76" font-size="6.2" text-anchor="end" fill="#0d0d0d" textLength="10.4" lengthAdjust="spacingAndGlyphs" stroke="#0d0d0d" stroke-width="0.08">400</text>
<line x1="27.50" y1="298.27" x2="29.10" y2="298.27" stroke="#777" stroke-width="0.5"/>
<text x="26.5" y="300.52" font-size="6.2" text-anchor="end" fill="#0d0d0d" textLength="10.4" lengthAdjust="spacingAndGlyphs" stroke="#0d0d0d" stroke-width="0.08">450</text>
<line x1="27.50" y1="304.03" x2="29.10" y2="304.03" stroke="#777" stroke-width="0.5"/>
<text x="26.5" y="306.28" font-size="6.2" text-anchor="end" fill="#0d0d0d" textLength="10.4" lengthAdjust="spacingAndGlyphs" stroke="#0d0d0d" stroke-width="0.08">500</text>
<line x1="27.50" y1="309.78" x2="29.10" y2="309.78" stroke="#777" stroke-width="0.5"/>
<text x="26.5" y="312.03" font-size="6.2" text-anchor="end" fill="#0d0d0d" textLength="10.4" lengthAdjust="spacingAndGlyphs" stroke="#0d0d0d" stroke-width="0.08">550</text>
<line x1="27.50" y1="315.54" x2="29.10" y2="315.54" stroke="#777" stroke-width="0.5"/>
<text x="26.5" y="317.79" font-size="6.2" text-anchor="end" fill="#0d0d0d" textLength="10.4" lengthAdjust="spacingAndGlyphs" stroke="#0d0d0d" stroke-width="0.08">600</text>
<line x1="27.50" y1="321.30" x2="29.10" y2="321.30" stroke="#777" stroke-width="0.5"/>
<text x="26.5" y="323.55" font-size="6.2" text-anchor="end" fill="#0d0d0d" textLength="10.4" lengthAdjust="spacingAndGlyphs" stroke="#0d0d0d" stroke-width="0.08">650</text>
<line x1="27.50" y1="327.06" x2="29.10" y2="327.06" stroke="#777" stroke-width="0.5"/>
<text x="26.5" y="329.31" font-size="6.2" text-anchor="end" fill="#0d0d0d" textLength="10.4" lengthAdjust="spacingAndGlyphs" stroke="#0d0d0d" stroke-width="0.08">700</text>
<line x1="27.50" y1="332.81" x2="29.10" y2="332.81" stroke="#777" stroke-width="0.5"/>
<text x="26.5" y="335.06" font-size="6.2" text-anchor="end" fill="#0d0d0d" textLength="10.4" lengthAdjust="spacingAndGlyphs" stroke="#0d0d0d" stroke-width="0.08">750</text>
<line x1="27.50" y1="338.57" x2="29.10" y2="338.57" stroke="#777" stroke-width="0.5"/>
<text x="26.5" y="340.82" font-size="6.2" text-anchor="end" fill="#0d0d0d" textLength="10.4" lengthAdjust="spacingAndGlyphs" stroke="#0d0d0d" stroke-width="0.08">775</text>
<line x1="27.50" y1="344.33" x2="29.10" y2="344.33" stroke="#777" stroke-width="0.5"/>
<text x="26.5" y="346.58" font-size="6.2" text-anchor="end" fill="#0d0d0d" textLength="10.4" lengthAdjust="spacingAndGlyphs" stroke="#0d0d0d" stroke-width="0.08">800</text>
<line x1="27.50" y1="350.08" x2="29.10" y2="350.08" stroke="#777" stroke-width="0.5"/>
<text x="26.5" y="352.33" font-size="6.2" text-anchor="end" fill="#0d0d0d" textLength="10.4" lengthAdjust="spacingAndGlyphs" stroke="#0d0d0d" stroke-width="0.08">825</text>
<line x1="27.50" y1="355.84" x2="29.10" y2="355.84" stroke="#777" stroke-width="0.5"/>
<text x="26.5" y="358.09" font-size="6.2" text-anchor="end" fill="#0d0d0d" textLength="10.4" lengthAdjust="spacingAndGlyphs" stroke="#0d0d0d" stroke-width="0.08">850</text>
<line x1="27.50" y1="361.60" x2="29.10" y2="361.60" stroke="#777" stroke-width="0.5"/>
<text x="26.5" y="363.85" font-size="6.2" text-anchor="end" fill="#0d0d0d" textLength="10.4" lengthAdjust="spacingAndGlyphs" stroke="#0d0d0d" stroke-width="0.08">875</text>
<line x1="27.50" y1="367.35" x2="29.10" y2="367.35" stroke="#777" stroke-width="0.5"/>
<text x="26.5" y="369.6" font-size="6.2" text-anchor="end" fill="#0d0d0d" textLength="10.4" lengthAdjust="spacingAndGlyphs" stroke="#0d0d0d" stroke-width="0.08">900</text>
<line x1="27.50" y1="373.11" x2="29.10" y2="373.11" stroke="#777" stroke-width="0.5"/>
<text x="26.5" y="375.36" font-size="6.2" text-anchor="end" fill="#0d0d0d" textLength="10.4" lengthAdjust="spacingAndGlyphs" stroke="#0d0d0d" stroke-width="0.08">925</text>
<line x1="27.50" y1="378.87" x2="29.10" y2="378.87" stroke="#777" stroke-width="0.5"/>
<text x="26.5" y="381.12" font-size="6.2" text-anchor="end" fill="#0d0d0d" textLength="10.4" lengthAdjust="spacingAndGlyphs" stroke="#0d0d0d" stroke-width="0.08">950</text>
<line x1="27.50" y1="384.62" x2="29.10" y2="384.62" stroke="#777" stroke-width="0.5"/>
<text x="26.5" y="386.88" font-size="6.2" text-anchor="end" fill="#0d0d0d" textLength="10.4" lengthAdjust="spacingAndGlyphs" stroke="#0d0d0d" stroke-width="0.08">975</text>
<line x1="27.50" y1="390.38" x2="29.10" y2="390.38" stroke="#777" stroke-width="0.5"/>
<text x="26.5" y="392.63" font-size="6.2" text-anchor="end" fill="#0d0d0d" textLength="13.9" lengthAdjust="spacingAndGlyphs" stroke="#0d0d0d" stroke-width="0.08">1000</text>
<line x1="60.10" y1="254.89" x2="61.30" y2="254.89" stroke="#777" stroke-width="0.5"/>
<line x1="60.10" y1="289.27" x2="61.30" y2="289.27" stroke="#777" stroke-width="0.5"/>
<line x1="60.10" y1="323.65" x2="61.30" y2="323.65" stroke="#777" stroke-width="0.5"/>
<line x1="60.10" y1="358.03" x2="61.30" y2="358.03" stroke="#777" stroke-width="0.5"/>
<line x1="60.10" y1="392.41" x2="61.30" y2="392.41" stroke="#777" stroke-width="0.5"/>
<line x1="30.5" y1="400.4" x2="30.5" y2="402.00" stroke="#777" stroke-width="0.5"/>
<text x="29.9" y="407.3" font-size="6.7" text-anchor="middle" fill="#0d0d0d" textLength="7.0" lengthAdjust="spacingAndGlyphs" stroke="#0d0d0d" stroke-width="0.09">−2</text>
<line x1="45.0" y1="400.4" x2="45.0" y2="402.00" stroke="#777" stroke-width="0.5"/>
<text x="45.0" y="407.3" font-size="6.7" text-anchor="middle" fill="#0d0d0d" textLength="3.4" lengthAdjust="spacingAndGlyphs" stroke="#0d0d0d" stroke-width="0.09">0</text>
<line x1="75.40" y1="400.4" x2="75.40" y2="402.00" stroke="#777" stroke-width="0.5"/>
<text x="75.4" y="407.3" font-size="6.7" text-anchor="middle" fill="#0d0d0d" textLength="10.2" lengthAdjust="spacingAndGlyphs" stroke="#0d0d0d" stroke-width="0.09">210</text>
<line x1="94.14" y1="400.4" x2="94.14" y2="402.00" stroke="#777" stroke-width="0.5"/>
<text x="94.14" y="407.3" font-size="6.7" text-anchor="middle" fill="#0d0d0d" textLength="10.2" lengthAdjust="spacingAndGlyphs" stroke="#0d0d0d" stroke-width="0.09">220</text>
<line x1="112.88" y1="400.4" x2="112.88" y2="402.00" stroke="#777" stroke-width="0.5"/>
<text x="112.88" y="407.3" font-size="6.7" text-anchor="middle" fill="#0d0d0d" textLength="10.2" lengthAdjust="spacingAndGlyphs" stroke="#0d0d0d" stroke-width="0.09">230</text>
<line x1="131.62" y1="400.4" x2="131.62" y2="402.00" stroke="#777" stroke-width="0.5"/>
<text x="131.62" y="407.3" font-size="6.7" text-anchor="middle" fill="#0d0d0d" textLength="10.2" lengthAdjust="spacingAndGlyphs" stroke="#0d0d0d" stroke-width="0.09">240</text>
<line x1="150.36" y1="400.4" x2="150.36" y2="402.00" stroke="#777" stroke-width="0.5"/>
<text x="150.36" y="407.3" font-size="6.7" text-anchor="middle" fill="#0d0d0d" textLength="10.2" lengthAdjust="spacingAndGlyphs" stroke="#0d0d0d" stroke-width="0.09">250</text>
<line x1="169.10" y1="400.4" x2="169.10" y2="402.00" stroke="#777" stroke-width="0.5"/>
<text x="169.1" y="407.3" font-size="6.7" text-anchor="middle" fill="#0d0d0d" textLength="10.2" lengthAdjust="spacingAndGlyphs" stroke="#0d0d0d" stroke-width="0.09">260</text>
<line x1="187.84" y1="400.4" x2="187.84" y2="402.00" stroke="#777" stroke-width="0.5"/>
<text x="187.84" y="407.3" font-size="6.7" text-anchor="middle" fill="#0d0d0d" textLength="10.2" lengthAdjust="spacingAndGlyphs" stroke="#0d0d0d" stroke-width="0.09">270</text>
<line x1="206.58" y1="400.4" x2="206.58" y2="402.00" stroke="#777" stroke-width="0.5"/>
<text x="206.58" y="407.3" font-size="6.7" text-anchor="middle" fill="#0d0d0d" textLength="10.2" lengthAdjust="spacingAndGlyphs" stroke="#0d0d0d" stroke-width="0.09">280</text>
<line x1="217.5" y1="400.4" x2="217.5" y2="402.00" stroke="#777" stroke-width="0.5"/>
<text x="217.5" y="407.3" font-size="6.7" text-anchor="middle" fill="#0d0d0d" textLength="3.4" lengthAdjust="spacingAndGlyphs" stroke="#0d0d0d" stroke-width="0.09">0</text>
<line x1="246.3" y1="400.4" x2="246.3" y2="402.00" stroke="#777" stroke-width="0.5"/>
<text x="246.3" y="407.3" font-size="6.7" text-anchor="middle" fill="#0d0d0d" textLength="3.4" lengthAdjust="spacingAndGlyphs" stroke="#0d0d0d" stroke-width="0.09">5</text>
<text x="44.4" y="414.5" font-size="7.0" text-anchor="middle" fill="#0d0d0d" textLength="36.8" lengthAdjust="spacingAndGlyphs" stroke="#0d0d0d" stroke-width="0.09">Change (%)</text>
<text x="138.38" y="414.5" font-size="7.0" text-anchor="middle" fill="#0d0d0d" textLength="51.5" lengthAdjust="spacingAndGlyphs" stroke="#0d0d0d" stroke-width="0.09">Temperature (K)</text>
<text x="232.22" y="414.5" font-size="6.9" text-anchor="middle" fill="#0d0d0d" textLength="18" lengthAdjust="spacingAndGlyphs" stroke="#0d0d0d" stroke-width="0.09">RMSE</text>
<text x="10.0" y="315.5" font-size="6.9" text-anchor="middle" fill="#0d0d0d" textLength="65" lengthAdjust="spacingAndGlyphs" transform="rotate(-90 10.0 315.5)" stroke="#0d0d0d" stroke-width="0.09">Pressure Level (hPa)</text>
<text x="138.38" y="228.45" font-size="6.8" text-anchor="middle" fill="#0d0d0d" textLength="110" lengthAdjust="spacingAndGlyphs">(c) Channel 26 (183.31±7 GHz) -1K</text>
<rect x="67.20" y="386.50" width="71.20" height="7.0" rx="1" fill="#fff" stroke="#6e6e6e" stroke-width="0.7"/>
<text x="69.4" y="392.1" font-size="5.6" text-anchor="start" fill="#111" textLength="67" lengthAdjust="spacingAndGlyphs" stroke="#0d0d0d" stroke-width="0.09">Perturbed Total RMSE: 2.64</text>
<line x1="321.80" y1="230.4" x2="321.80" y2="400.4" stroke="#e9e9e9" stroke-width="0.7"/>
<line x1="340.07" y1="230.4" x2="340.07" y2="400.4" stroke="#e9e9e9" stroke-width="0.7"/>
<line x1="358.34" y1="230.4" x2="358.34" y2="400.4" stroke="#e9e9e9" stroke-width="0.7"/>
<line x1="376.61" y1="230.4" x2="376.61" y2="400.4" stroke="#e9e9e9" stroke-width="0.7"/>
<line x1="394.88" y1="230.4" x2="394.88" y2="400.4" stroke="#e9e9e9" stroke-width="0.7"/>
<line x1="413.15" y1="230.4" x2="413.15" y2="400.4" stroke="#e9e9e9" stroke-width="0.7"/>
<line x1="431.42" y1="230.4" x2="431.42" y2="400.4" stroke="#e9e9e9" stroke-width="0.7"/>
<line x1="449.69" y1="230.4" x2="449.69" y2="400.4" stroke="#e9e9e9" stroke-width="0.7"/>
<line x1="307.9" y1="254.89" x2="462.04999999999995" y2="254.89" stroke="#e9e9e9" stroke-width="0.7"/>
<line x1="307.9" y1="289.27" x2="462.04999999999995" y2="289.27" stroke="#e9e9e9" stroke-width="0.7"/>
<line x1="307.9" y1="323.65" x2="462.04999999999995" y2="323.65" stroke="#e9e9e9" stroke-width="0.7"/>
<line x1="307.9" y1="358.03" x2="462.04999999999995" y2="358.03" stroke="#e9e9e9" stroke-width="0.7"/>
<line x1="307.9" y1="392.41" x2="462.04999999999995" y2="392.41" stroke="#e9e9e9" stroke-width="0.7"/>
<line x1="279.5" y1="230.4" x2="279.5" y2="400.4" stroke="#e6e6e6" stroke-width="0.8"/>
<rect x="279.50" y="238.40" width="0.50" height="4.6" fill="#b265b4"/>
<rect x="279.50" y="244.16" width="1.50" height="4.6" fill="#b265b4"/>
<rect x="279.50" y="249.91" width="4.25" height="4.6" fill="#b265b4"/>
<rect x="279.50" y="255.67" width="10.50" height="4.6" fill="#b265b4"/>
<rect x="279.50" y="261.43" width="9.25" height="4.6" fill="#b265b4"/>
<rect x="279.50" y="267.19" width="2.25" height="4.6" fill="#b265b4"/>
<rect x="279.50" y="272.94" width="0.75" height="4.6" fill="#b265b4"/>
<rect x="277.25" y="278.70" width="2.25" height="4.6" fill="#b265b4"/>
<rect x="278.25" y="284.46" width="1.25" height="4.6" fill="#b265b4"/>
<rect x="279.20" y="290.21" width="0.30" height="4.6" fill="#b265b4"/>
<rect x="279.20" y="295.97" width="0.30" height="4.6" fill="#b265b4"/>
<rect x="278.25" y="301.73" width="1.25" height="4.6" fill="#b265b4"/>
<rect x="278.25" y="307.48" width="1.25" height="4.6" fill="#b265b4"/>
<rect x="278.25" y="313.24" width="1.25" height="4.6" fill="#b265b4"/>
<rect x="278.50" y="319.00" width="1.00" height="4.6" fill="#b265b4"/>
<rect x="278.75" y="324.75" width="0.75" height="4.6" fill="#b265b4"/>
<rect x="279.00" y="330.51" width="0.50" height="4.6" fill="#b265b4"/>
<rect x="279.00" y="336.27" width="0.50" height="4.6" fill="#b265b4"/>
<rect x="278.50" y="342.03" width="1.00" height="4.6" fill="#b265b4"/>
<rect x="279.50" y="353.54" width="5.50" height="4.6" fill="#b265b4"/>
<rect x="279.50" y="359.30" width="17.00" height="4.6" fill="#b265b4"/>
<rect x="279.50" y="365.05" width="25.50" height="4.6" fill="#b265b4"/>
<rect x="279.50" y="370.81" width="25.50" height="4.6" fill="#b265b4"/>
<rect x="279.50" y="376.57" width="22.00" height="4.6" fill="#b265b4"/>
<rect x="279.50" y="382.32" width="16.50" height="4.6" fill="#b265b4"/>
<rect x="279.50" y="388.08" width="13.25" height="4.6" fill="#b265b4"/>
<polyline points="330.90,237.55 328.42,242.00 325.51,246.30 316.65,250.59 315.40,254.89 321.88,259.19 331.67,263.49 350.70,272.03 364.81,280.53 377.50,289.02 388.23,297.62 397.01,306.21 405.83,314.81 415.14,323.40 423.55,332.07 433.05,340.69 441.10,349.19 444.71,353.28 448.35,357.43 449.65,361.68 449.54,366.02 441.64,370.92 434.76,375.87 436.35,380.12 439.64,384.27 443.47,388.26 447.60,392.41" fill="none" stroke="#777777" stroke-width="1.2" stroke-linejoin="round" stroke-linecap="butt" stroke-dasharray="3.2 1.5"/>
<polyline points="330.60,237.70 329.43,242.00 326.78,246.30 322.93,250.59 319.83,254.89 323.48,259.19 332.57,263.49 350.55,272.08 364.50,280.68 377.07,289.27 386.77,297.87 396.10,306.46 405.37,315.06 414.62,323.65 424.14,332.25 432.44,340.84 440.18,349.44 443.81,353.73 446.59,358.03 448.74,362.33 450.30,366.62 451.58,370.92 452.73,375.22 453.72,379.52 454.48,383.82 455.12,388.11 455.60,392.41" fill="none" stroke="#0505ff" stroke-width="1.15" stroke-linejoin="round" stroke-linecap="butt"/>
<polyline points="330.60,237.70 328.42,242.00 325.51,246.30 316.65,250.59 315.40,254.89 321.88,259.19 331.67,263.49 350.60,272.08 364.51,280.68 377.00,289.27 387.73,297.87 396.51,306.46 405.33,315.06 414.64,323.65 423.20,332.25 432.75,340.84 440.60,349.44 443.81,353.73 447.15,358.03 448.35,362.33 448.34,366.62 441.64,370.92 436.06,375.22 437.55,379.52 440.54,383.82 443.77,388.11 447.60,392.41" fill="none" stroke="#ff0808" stroke-width="1.25" stroke-linejoin="round" stroke-linecap="butt"/>
<polyline points="465.30,237.70 467.30,243.65 467.70,249.60 473.50,255.55 472.90,261.50 466.30,267.45 465.30,273.40 465.90,279.35 466.30,285.30 465.90,291.25 467.50,297.20 465.90,303.15 465.50,309.10 465.70,315.05 465.50,321.00 466.30,326.95 465.50,332.90 465.90,338.85 466.30,344.80 465.50,350.75 468.40,356.70 482.70,362.65 493.50,368.60 490.90,374.55 487.80,380.50 482.70,386.45 478.20,392.40" fill="none" stroke="#0a850a" stroke-width="1.3" stroke-linejoin="round" stroke-linecap="butt"/>
<rect x="275.70" y="230.4" width="30.90" height="169.99999999999997" fill="none" stroke="#c1c1c1" stroke-width="0.9"/>
<rect x="307.90" y="230.4" width="154.15" height="169.99999999999997" fill="none" stroke="#c1c1c1" stroke-width="0.9"/>
<rect x="463.30" y="230.4" width="31.05" height="169.99999999999997" fill="none" stroke="#c1c1c1" stroke-width="0.9"/>
<rect x="306.15" y="229.95" width="2.20" height="170.90" fill="#c1c1c1"/>
<rect x="461.60" y="229.95" width="2.15" height="170.90" fill="#c1c1c1"/>
<line x1="274.10" y1="240.70" x2="275.70" y2="240.70" stroke="#777" stroke-width="0.5"/>
<text x="273.1" y="242.95" font-size="6.2" text-anchor="end" fill="#0d0d0d" textLength="10.4" lengthAdjust="spacingAndGlyphs" stroke="#0d0d0d" stroke-width="0.08">100</text>
<line x1="274.10" y1="246.46" x2="275.70" y2="246.46" stroke="#777" stroke-width="0.5"/>
<text x="273.1" y="248.71" font-size="6.2" text-anchor="end" fill="#0d0d0d" textLength="10.4" lengthAdjust="spacingAndGlyphs" stroke="#0d0d0d" stroke-width="0.08">125</text>
<line x1="274.10" y1="252.21" x2="275.70" y2="252.21" stroke="#777" stroke-width="0.5"/>
<text x="273.1" y="254.46" font-size="6.2" text-anchor="end" fill="#0d0d0d" textLength="10.4" lengthAdjust="spacingAndGlyphs" stroke="#0d0d0d" stroke-width="0.08">150</text>
<line x1="274.10" y1="257.97" x2="275.70" y2="257.97" stroke="#777" stroke-width="0.5"/>
<text x="273.1" y="260.22" font-size="6.2" text-anchor="end" fill="#0d0d0d" textLength="10.4" lengthAdjust="spacingAndGlyphs" stroke="#0d0d0d" stroke-width="0.08">175</text>
<line x1="274.10" y1="263.73" x2="275.70" y2="263.73" stroke="#777" stroke-width="0.5"/>
<text x="273.1" y="265.98" font-size="6.2" text-anchor="end" fill="#0d0d0d" textLength="10.4" lengthAdjust="spacingAndGlyphs" stroke="#0d0d0d" stroke-width="0.08">200</text>
<line x1="274.10" y1="269.49" x2="275.70" y2="269.49" stroke="#777" stroke-width="0.5"/>
<text x="273.1" y="271.74" font-size="6.2" text-anchor="end" fill="#0d0d0d" textLength="10.4" lengthAdjust="spacingAndGlyphs" stroke="#0d0d0d" stroke-width="0.08">225</text>
<line x1="274.10" y1="275.24" x2="275.70" y2="275.24" stroke="#777" stroke-width="0.5"/>
<text x="273.1" y="277.49" font-size="6.2" text-anchor="end" fill="#0d0d0d" textLength="10.4" lengthAdjust="spacingAndGlyphs" stroke="#0d0d0d" stroke-width="0.08">250</text>
<line x1="274.10" y1="281.00" x2="275.70" y2="281.00" stroke="#777" stroke-width="0.5"/>
<text x="273.1" y="283.25" font-size="6.2" text-anchor="end" fill="#0d0d0d" textLength="10.4" lengthAdjust="spacingAndGlyphs" stroke="#0d0d0d" stroke-width="0.08">300</text>
<line x1="274.10" y1="286.76" x2="275.70" y2="286.76" stroke="#777" stroke-width="0.5"/>
<text x="273.1" y="289.01" font-size="6.2" text-anchor="end" fill="#0d0d0d" textLength="10.4" lengthAdjust="spacingAndGlyphs" stroke="#0d0d0d" stroke-width="0.08">350</text>
<line x1="274.10" y1="292.51" x2="275.70" y2="292.51" stroke="#777" stroke-width="0.5"/>
<text x="273.1" y="294.76" font-size="6.2" text-anchor="end" fill="#0d0d0d" textLength="10.4" lengthAdjust="spacingAndGlyphs" stroke="#0d0d0d" stroke-width="0.08">400</text>
<line x1="274.10" y1="298.27" x2="275.70" y2="298.27" stroke="#777" stroke-width="0.5"/>
<text x="273.1" y="300.52" font-size="6.2" text-anchor="end" fill="#0d0d0d" textLength="10.4" lengthAdjust="spacingAndGlyphs" stroke="#0d0d0d" stroke-width="0.08">450</text>
<line x1="274.10" y1="304.03" x2="275.70" y2="304.03" stroke="#777" stroke-width="0.5"/>
<text x="273.1" y="306.28" font-size="6.2" text-anchor="end" fill="#0d0d0d" textLength="10.4" lengthAdjust="spacingAndGlyphs" stroke="#0d0d0d" stroke-width="0.08">500</text>
<line x1="274.10" y1="309.78" x2="275.70" y2="309.78" stroke="#777" stroke-width="0.5"/>
<text x="273.1" y="312.03" font-size="6.2" text-anchor="end" fill="#0d0d0d" textLength="10.4" lengthAdjust="spacingAndGlyphs" stroke="#0d0d0d" stroke-width="0.08">550</text>
<line x1="274.10" y1="315.54" x2="275.70" y2="315.54" stroke="#777" stroke-width="0.5"/>
<text x="273.1" y="317.79" font-size="6.2" text-anchor="end" fill="#0d0d0d" textLength="10.4" lengthAdjust="spacingAndGlyphs" stroke="#0d0d0d" stroke-width="0.08">600</text>
<line x1="274.10" y1="321.30" x2="275.70" y2="321.30" stroke="#777" stroke-width="0.5"/>
<text x="273.1" y="323.55" font-size="6.2" text-anchor="end" fill="#0d0d0d" textLength="10.4" lengthAdjust="spacingAndGlyphs" stroke="#0d0d0d" stroke-width="0.08">650</text>
<line x1="274.10" y1="327.06" x2="275.70" y2="327.06" stroke="#777" stroke-width="0.5"/>
<text x="273.1" y="329.31" font-size="6.2" text-anchor="end" fill="#0d0d0d" textLength="10.4" lengthAdjust="spacingAndGlyphs" stroke="#0d0d0d" stroke-width="0.08">700</text>
<line x1="274.10" y1="332.81" x2="275.70" y2="332.81" stroke="#777" stroke-width="0.5"/>
<text x="273.1" y="335.06" font-size="6.2" text-anchor="end" fill="#0d0d0d" textLength="10.4" lengthAdjust="spacingAndGlyphs" stroke="#0d0d0d" stroke-width="0.08">750</text>
<line x1="274.10" y1="338.57" x2="275.70" y2="338.57" stroke="#777" stroke-width="0.5"/>
<text x="273.1" y="340.82" font-size="6.2" text-anchor="end" fill="#0d0d0d" textLength="10.4" lengthAdjust="spacingAndGlyphs" stroke="#0d0d0d" stroke-width="0.08">775</text>
<line x1="274.10" y1="344.33" x2="275.70" y2="344.33" stroke="#777" stroke-width="0.5"/>
<text x="273.1" y="346.58" font-size="6.2" text-anchor="end" fill="#0d0d0d" textLength="10.4" lengthAdjust="spacingAndGlyphs" stroke="#0d0d0d" stroke-width="0.08">800</text>
<line x1="274.10" y1="350.08" x2="275.70" y2="350.08" stroke="#777" stroke-width="0.5"/>
<text x="273.1" y="352.33" font-size="6.2" text-anchor="end" fill="#0d0d0d" textLength="10.4" lengthAdjust="spacingAndGlyphs" stroke="#0d0d0d" stroke-width="0.08">825</text>
<line x1="274.10" y1="355.84" x2="275.70" y2="355.84" stroke="#777" stroke-width="0.5"/>
<text x="273.1" y="358.09" font-size="6.2" text-anchor="end" fill="#0d0d0d" textLength="10.4" lengthAdjust="spacingAndGlyphs" stroke="#0d0d0d" stroke-width="0.08">850</text>
<line x1="274.10" y1="361.60" x2="275.70" y2="361.60" stroke="#777" stroke-width="0.5"/>
<text x="273.1" y="363.85" font-size="6.2" text-anchor="end" fill="#0d0d0d" textLength="10.4" lengthAdjust="spacingAndGlyphs" stroke="#0d0d0d" stroke-width="0.08">875</text>
<line x1="274.10" y1="367.35" x2="275.70" y2="367.35" stroke="#777" stroke-width="0.5"/>
<text x="273.1" y="369.6" font-size="6.2" text-anchor="end" fill="#0d0d0d" textLength="10.4" lengthAdjust="spacingAndGlyphs" stroke="#0d0d0d" stroke-width="0.08">900</text>
<line x1="274.10" y1="373.11" x2="275.70" y2="373.11" stroke="#777" stroke-width="0.5"/>
<text x="273.1" y="375.36" font-size="6.2" text-anchor="end" fill="#0d0d0d" textLength="10.4" lengthAdjust="spacingAndGlyphs" stroke="#0d0d0d" stroke-width="0.08">925</text>
<line x1="274.10" y1="378.87" x2="275.70" y2="378.87" stroke="#777" stroke-width="0.5"/>
<text x="273.1" y="381.12" font-size="6.2" text-anchor="end" fill="#0d0d0d" textLength="10.4" lengthAdjust="spacingAndGlyphs" stroke="#0d0d0d" stroke-width="0.08">950</text>
<line x1="274.10" y1="384.62" x2="275.70" y2="384.62" stroke="#777" stroke-width="0.5"/>
<text x="273.1" y="386.88" font-size="6.2" text-anchor="end" fill="#0d0d0d" textLength="10.4" lengthAdjust="spacingAndGlyphs" stroke="#0d0d0d" stroke-width="0.08">975</text>
<line x1="274.10" y1="390.38" x2="275.70" y2="390.38" stroke="#777" stroke-width="0.5"/>
<text x="273.1" y="392.63" font-size="6.2" text-anchor="end" fill="#0d0d0d" textLength="13.9" lengthAdjust="spacingAndGlyphs" stroke="#0d0d0d" stroke-width="0.08">1000</text>
<line x1="306.70" y1="254.89" x2="307.90" y2="254.89" stroke="#777" stroke-width="0.5"/>
<line x1="306.70" y1="289.27" x2="307.90" y2="289.27" stroke="#777" stroke-width="0.5"/>
<line x1="306.70" y1="323.65" x2="307.90" y2="323.65" stroke="#777" stroke-width="0.5"/>
<line x1="306.70" y1="358.03" x2="307.90" y2="358.03" stroke="#777" stroke-width="0.5"/>
<line x1="306.70" y1="392.41" x2="307.90" y2="392.41" stroke="#777" stroke-width="0.5"/>
<line x1="279.5" y1="400.4" x2="279.5" y2="402.00" stroke="#777" stroke-width="0.5"/>
<text x="279.5" y="407.3" font-size="6.7" text-anchor="middle" fill="#0d0d0d" textLength="8.6" lengthAdjust="spacingAndGlyphs" stroke="#0d0d0d" stroke-width="0.09">0.0</text>
<line x1="298.75" y1="400.4" x2="298.75" y2="402.00" stroke="#777" stroke-width="0.5"/>
<text x="298.75" y="407.3" font-size="6.7" text-anchor="middle" fill="#0d0d0d" textLength="8.6" lengthAdjust="spacingAndGlyphs" stroke="#0d0d0d" stroke-width="0.09">2.5</text>
<line x1="321.80" y1="400.4" x2="321.80" y2="402.00" stroke="#777" stroke-width="0.5"/>
<text x="321.8" y="407.3" font-size="6.7" text-anchor="middle" fill="#0d0d0d" textLength="10.2" lengthAdjust="spacingAndGlyphs" stroke="#0d0d0d" stroke-width="0.09">210</text>
<line x1="340.07" y1="400.4" x2="340.07" y2="402.00" stroke="#777" stroke-width="0.5"/>
<text x="340.07" y="407.3" font-size="6.7" text-anchor="middle" fill="#0d0d0d" textLength="10.2" lengthAdjust="spacingAndGlyphs" stroke="#0d0d0d" stroke-width="0.09">220</text>
<line x1="358.34" y1="400.4" x2="358.34" y2="402.00" stroke="#777" stroke-width="0.5"/>
<text x="358.34" y="407.3" font-size="6.7" text-anchor="middle" fill="#0d0d0d" textLength="10.2" lengthAdjust="spacingAndGlyphs" stroke="#0d0d0d" stroke-width="0.09">230</text>
<line x1="376.61" y1="400.4" x2="376.61" y2="402.00" stroke="#777" stroke-width="0.5"/>
<text x="376.61" y="407.3" font-size="6.7" text-anchor="middle" fill="#0d0d0d" textLength="10.2" lengthAdjust="spacingAndGlyphs" stroke="#0d0d0d" stroke-width="0.09">240</text>
<line x1="394.88" y1="400.4" x2="394.88" y2="402.00" stroke="#777" stroke-width="0.5"/>
<text x="394.88" y="407.3" font-size="6.7" text-anchor="middle" fill="#0d0d0d" textLength="10.2" lengthAdjust="spacingAndGlyphs" stroke="#0d0d0d" stroke-width="0.09">250</text>
<line x1="413.15" y1="400.4" x2="413.15" y2="402.00" stroke="#777" stroke-width="0.5"/>
<text x="413.15" y="407.3" font-size="6.7" text-anchor="middle" fill="#0d0d0d" textLength="10.2" lengthAdjust="spacingAndGlyphs" stroke="#0d0d0d" stroke-width="0.09">260</text>
<line x1="431.42" y1="400.4" x2="431.42" y2="402.00" stroke="#777" stroke-width="0.5"/>
<text x="431.42" y="407.3" font-size="6.7" text-anchor="middle" fill="#0d0d0d" textLength="10.2" lengthAdjust="spacingAndGlyphs" stroke="#0d0d0d" stroke-width="0.09">270</text>
<line x1="449.69" y1="400.4" x2="449.69" y2="402.00" stroke="#777" stroke-width="0.5"/>
<text x="449.69" y="407.3" font-size="6.7" text-anchor="middle" fill="#0d0d0d" textLength="10.2" lengthAdjust="spacingAndGlyphs" stroke="#0d0d0d" stroke-width="0.09">280</text>
<line x1="465.0" y1="400.4" x2="465.0" y2="402.00" stroke="#777" stroke-width="0.5"/>
<text x="465.0" y="407.3" font-size="6.7" text-anchor="middle" fill="#0d0d0d" textLength="3.4" lengthAdjust="spacingAndGlyphs" stroke="#0d0d0d" stroke-width="0.09">0</text>
<line x1="480.0" y1="400.4" x2="480.0" y2="402.00" stroke="#777" stroke-width="0.5"/>
<text x="480.0" y="407.3" font-size="6.7" text-anchor="middle" fill="#0d0d0d" textLength="3.4" lengthAdjust="spacingAndGlyphs" stroke="#0d0d0d" stroke-width="0.09">5</text>
<text x="291.0" y="414.5" font-size="7.0" text-anchor="middle" fill="#0d0d0d" textLength="36.8" lengthAdjust="spacingAndGlyphs" stroke="#0d0d0d" stroke-width="0.09">Change (%)</text>
<text x="384.97" y="414.5" font-size="7.0" text-anchor="middle" fill="#0d0d0d" textLength="51.5" lengthAdjust="spacingAndGlyphs" stroke="#0d0d0d" stroke-width="0.09">Temperature (K)</text>
<text x="478.82" y="414.5" font-size="6.9" text-anchor="middle" fill="#0d0d0d" textLength="18" lengthAdjust="spacingAndGlyphs" stroke="#0d0d0d" stroke-width="0.09">RMSE</text>
<text x="256.6" y="315.5" font-size="6.9" text-anchor="middle" fill="#0d0d0d" textLength="65" lengthAdjust="spacingAndGlyphs" transform="rotate(-90 256.6 315.5)" stroke="#0d0d0d" stroke-width="0.09">Pressure Level (hPa)</text>
<text x="384.97" y="228.45" font-size="6.8" text-anchor="middle" fill="#0d0d0d" textLength="113.75" lengthAdjust="spacingAndGlyphs">(d) Channel 26 (183.31±7 GHz) +1K</text>
<rect x="314.40" y="386.50" width="71.20" height="7.0" rx="1" fill="#fff" stroke="#6e6e6e" stroke-width="0.7"/>
<text x="316.6" y="392.1" font-size="5.6" text-anchor="start" fill="#111" textLength="67" lengthAdjust="spacingAndGlyphs" stroke="#0d0d0d" stroke-width="0.09">Perturbed Total RMSE: 3.50</text>
<text x="250" y="10.75" font-size="8.1" text-anchor="middle" fill="#0d0d0d" textLength="244.5" lengthAdjust="spacingAndGlyphs" stroke="#0d0d0d" stroke-width="0.09">Brightness Temperature Perturbation Impact on Retrieval Profiles</text>
<text x="250" y="19.55" font-size="8.1" text-anchor="middle" fill="#0d0d0d" textLength="150" lengthAdjust="spacingAndGlyphs" stroke="#0d0d0d" stroke-width="0.09">Longitude: 176.15°W, Latitude: 49.93°S</text>
<rect x="107.6" y="423.6" width="284" height="10.4" rx="1.2" fill="#fff" stroke="#dadada" stroke-width="0.7"/>
<line x1="110.4" y1="428.4" x2="115.0" y2="428.4" stroke="#666" stroke-width="1.2"/>
<line x1="117.0" y1="428.4" x2="121.6" y2="428.4" stroke="#666" stroke-width="1.2"/>
<text x="128.0" y="430.7" font-size="6.8" text-anchor="start" fill="#0d0d0d" textLength="56" lengthAdjust="spacingAndGlyphs" stroke="#0d0d0d" stroke-width="0.09">Original Retrieved</text>
<line x1="196.7" y1="428.4" x2="209.7" y2="428.4" stroke="#0505ff" stroke-width="1.15"/>
<text x="214.7" y="430.7" font-size="6.8" text-anchor="start" fill="#0d0d0d" textLength="62.2" lengthAdjust="spacingAndGlyphs" stroke="#0d0d0d" stroke-width="0.09">Perturbed Retrieved</text>
<line x1="289.6" y1="428.4" x2="302.8" y2="428.4" stroke="#ff0808" stroke-width="1.25"/>
<text x="308.0" y="430.7" font-size="6.8" text-anchor="start" fill="#0d0d0d" textLength="18.6" lengthAdjust="spacingAndGlyphs" stroke="#0d0d0d" stroke-width="0.09">Target</text>
<rect x="339.4" y="426.0" width="13.0" height="4.6" fill="#b265b4"/>
<text x="357.6" y="430.7" font-size="6.8" text-anchor="start" fill="#0d0d0d" textLength="31" lengthAdjust="spacingAndGlyphs" stroke="#0d0d0d" stroke-width="0.09">Change %</text>
</g>
</svg>
</body></html>
